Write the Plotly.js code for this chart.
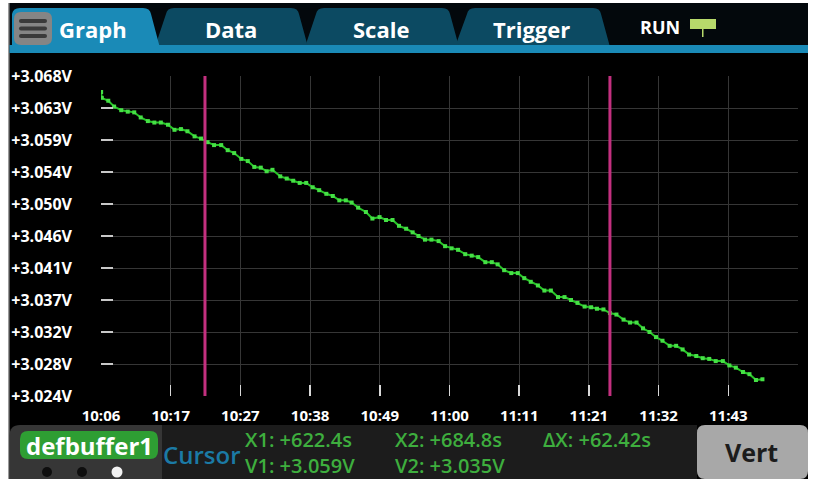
<!DOCTYPE html>
<html>
<head>
<meta charset="utf-8">
<script src="https://cdn.plot.ly/plotly-3.0.1.min.js"></script>
<style>html,body{margin:0;padding:0;background:#fff;}#chart{width:814px;height:479px;}</style>
</head>
<body>
<div id="chart"></div>
<script>
// ---- data ----
const timeSec = [606.4, 606.5, 607.5, 608.4, 609.5, 610.5, 611.5, 612.5, 613.6, 614.6, 615.6, 616.7, 617.7, 618.7, 619.7, 620.8, 621.8, 622.8, 623.8, 624.9, 625.9, 626.9, 628.0, 629.0, 630.0, 631.0,
  631.9, 632.8, 634.0, 635.0, 636.0, 637.0, 638.0, 639.0, 640.0, 641.1, 642.1, 643.1, 644.1, 645.0, 646.0, 647.2, 648.2, 649.3, 650.3, 651.3, 652.3, 653.4,
  654.4, 655.3, 656.3, 657.3, 658.4, 659.4, 660.4, 661.4, 662.5, 663.5, 664.5, 665.6, 666.6, 667.5, 668.5, 669.6, 670.6, 671.6, 672.6, 673.7, 674.7, 675.7, 676.8, 677.8, 678.8, 679.8, 680.9, 681.9,
  682.8, 683.8, 684.8, 685.8, 686.9, 687.9, 688.9, 689.9, 690.9, 691.9, 692.9, 694.0, 695.0, 696.0, 697.0, 698.1, 699.1, 700.1, 701.1, 702.2, 703.2, 704.2, 705.3, 706.3, 707.3, 708.3];
const volts = [3.0658, 3.0650, 3.0646, 3.0638, 3.0633, 3.0631, 3.0630, 3.0623, 3.0618, 3.0616, 3.0616, 3.0613, 3.0606, 3.0607, 3.0604, 3.0597, 3.0594, 3.0589, 3.0585, 3.0585, 3.0578, 3.0574, 3.0566, 3.0563, 3.0555, 3.0554,
  3.0549, 3.0551, 3.0542, 3.0539, 3.0536, 3.0533, 3.0533, 3.0527, 3.0523, 3.0518, 3.0515, 3.0509, 3.0509, 3.0506, 3.0499, 3.0493, 3.0484, 3.0486, 3.0482, 3.0482, 3.0474, 3.0470,
  3.0465, 3.0460, 3.0455, 3.0455, 3.0453, 3.0446, 3.0443, 3.0441, 3.0435, 3.0433, 3.0431, 3.0424, 3.0424, 3.0421, 3.0413, 3.0409, 3.0409, 3.0402, 3.0397, 3.0392, 3.0385, 3.0385, 3.0376, 3.0376, 3.0372, 3.0368, 3.0363, 3.0362,
  3.0360, 3.0359, 3.0354, 3.0352, 3.0345, 3.0341, 3.0341, 3.0333, 3.0328, 3.0321, 3.0316, 3.0309, 3.0309, 3.0304, 3.0297, 3.0295, 3.0292, 3.0291, 3.0288, 3.0288, 3.0282, 3.0279, 3.0273, 3.0270, 3.0262, 3.0263];

const xTickValues = [606.38, 617.12, 627.86, 638.60, 649.34, 660.08, 670.82, 681.56, 692.30, 703.04, 713.78];
const xTickLabels = ["10:06", "10:17", "10:27", "10:38", "10:49", "11:00", "11:11", "11:21", "11:32", "11:43", ""];
const yTickValues = [3.0240, 3.0284, 3.0328, 3.0372, 3.0416, 3.0460, 3.0504, 3.0548, 3.0592, 3.0636, 3.0680];
const yTickLabels = ["+3.024V", "+3.028V", "+3.032V", "+3.037V", "+3.041V", "+3.046V", "+3.050V", "+3.054V", "+3.059V", "+3.063V", "+3.068V"];

const cursorX = [622.4, 684.8];
const cursorV = [3.059, 3.035];
const deltaX = 62.42;
const tabNames = ["Graph", "Data", "Scale", "Trigger"];
const bufferName = "defbuffer1";

// ---- geometry helpers (pixel -> paper) ----
const L = 101, R = 798, T = 76, B = 396;
const W = R - L, H = B - T;
const px = x => (x - L) / W;
const py = y => (B - y) / H;
const P = (x, y) => px(x).toFixed(5) + ',' + py(y).toFixed(5);

function rrect(x0, y0, x1, y1, r) {
  return 'M' + P(x0 + r, y0) + ' L' + P(x1 - r, y0) + ' Q' + P(x1, y0) + ' ' + P(x1, y0 + r) +
    ' L' + P(x1, y1 - r) + ' Q' + P(x1, y1) + ' ' + P(x1 - r, y1) +
    ' L' + P(x0 + r, y1) + ' Q' + P(x0, y1) + ' ' + P(x0, y1 - r) +
    ' L' + P(x0, y0 + r) + ' Q' + P(x0, y0) + ' ' + P(x0 + r, y0) + ' Z';
}
function tab(xbl, xtl, xtr, xbr, yt, yb) {
  return 'M' + P(xbl, yb) + ' L' + P(xtl, yt + 6) + ' Q' + P(xtl + 1, yt) + ' ' + P(xtl + 8, yt) +
    ' L' + P(xtr - 7, yt) + ' Q' + P(xtr, yt) + ' ' + P(xtr + 1, yt + 6) + ' L' + P(xbr, yb) + ' Z';
}
const shp = (path, color, layer) => ({type: 'path', xref: 'paper', yref: 'paper', path: path, fillcolor: color, line: {width: 0}, layer: layer || 'below'});
const rect = (x0, y0, x1, y1, color) => ({type: 'rect', xref: 'paper', yref: 'paper', x0: px(x0), x1: px(x1), y0: py(y1), y1: py(y0), fillcolor: color, line: {width: 0}, layer: 'below'});
const circ = (cx, cy, r, color) => ({type: 'circle', xref: 'paper', yref: 'paper', x0: px(cx - r), x1: px(cx + r), y0: py(cy + r), y1: py(cy - r), fillcolor: color, line: {width: 0}, layer: 'above'});

const FONT = '"Open Sans", "DejaVu Sans", sans-serif';
const ann = (text, x, y, opts) => Object.assign({
  text: text, xref: 'paper', yref: 'paper', x: px(x), y: py(y), showarrow: false,
  xanchor: 'center', yanchor: 'middle', borderpad: 0, font: {family: FONT, size: 22, color: '#ffffff', weight: 700}
}, opts || {});

const shapes = [
  rect(9, 3, 808, 479, '#000000'),
  rect(9, 3, 808, 47, '#03080c'),
  rect(8, 3, 9.5, 479, '#9a9a9a'),
  // inactive tabs
  shp(tab(455, 467, 600, 610, 8, 47), '#0c4a62'),
  shp(tab(305, 316, 449, 459, 8, 47), '#0c4a62'),
  shp(tab(155, 166, 298, 308, 8, 47), '#0c4a62'),
  // active tab
  shp(tab(12, 12, 150, 160, 8, 48), '#1a8ab7'),
  rect(9.5, 45, 808, 53, '#1a8ab7'),
  // hamburger
  shp(rrect(14, 12, 52, 45, 7), '#858585'),
  shp(rrect(19, 19, 47, 23, 2), '#3a3a3a'),
  shp(rrect(19, 26.5, 47, 30.5, 2), '#3a3a3a'),
  shp(rrect(19, 34, 47, 38, 2), '#3a3a3a'),
  // RUN indicator
  rect(690, 19, 716, 29, '#b7d96b'),
  rect(702, 29, 703.5, 37, '#b7d96b'),
  // bottom panel
  rect(160, 425, 697, 479, '#1c1c1c'),
  shp('M' + P(9.5, 479) + ' L' + P(9.5, 436) + ' Q' + P(9.5, 425) + ' ' + P(20, 425) + ' L' + P(162, 425) + ' L' + P(162, 479) + ' Z', '#363636'),
  shp(rrect(20, 431, 158, 459, 8), '#2e9e33'),
  shp(rrect(697, 425, 808, 479, 8), '#a8a8a8'),
  circ(47, 472, 5, '#0e0e0e'),
  circ(82, 472, 5, '#0e0e0e'),
  circ(117, 472, 5.5, '#f2f2f2')
];
// cursor lines
cursorX.forEach(cx => shapes.push({type: 'line', xref: 'x', yref: 'paper', x0: cx, x1: cx, y0: 0, y1: 1, line: {color: '#c3307f', width: 3}, layer: 'above'}));

const green = '#3eae3e';
const gfont = {family: FONT, size: 20, color: green, weight: 600};
const annotations = [
  ann(tabNames[0], 93, 29),
  ann(tabNames[1], 231, 29),
  ann(tabNames[2], 381, 29),
  ann(tabNames[3], 531, 29),
  ann('RUN', 660, 27, {font: {family: FONT, size: 18, color: '#ffffff', weight: 700}}),
  ann(bufferName, 89, 445, {font: {family: FONT, size: 24, color: '#ffffff', weight: 700}}),
  ann('Cursor', 162, 454, {xanchor: 'left', font: {family: FONT, size: 24, color: '#1b7aa5', weight: 600}}),
  ann('X1: +' + cursorX[0].toFixed(1) + 's<br>V1: +' + cursorV[0].toFixed(3) + 'V', 244, 452, {xanchor: 'left', align: 'left', font: gfont}),
  ann('X2: +' + cursorX[1].toFixed(1) + 's<br>V2: +' + cursorV[1].toFixed(3) + 'V', 394, 452, {xanchor: 'left', align: 'left', font: gfont}),
  ann('ΔX: +' + deltaX.toFixed(2) + 's', 542, 439, {xanchor: 'left', font: gfont}),
  ann('Vert', 751, 452, {font: {family: FONT, size: 25, color: '#1c1c1c', weight: 700}})
];

const trace = {
  x: timeSec, y: volts, type: 'scatter', mode: 'lines+markers',
  line: {color: '#27c427', width: 2},
  marker: {color: '#45e045', size: 4, symbol: 'square'},
  hoverinfo: 'skip', cliponaxis: true
};

const layout = {
  width: 814, height: 479,
  margin: {l: L, r: 814 - R, t: T, b: 479 - B, pad: 0},
  paper_bgcolor: '#ffffff', plot_bgcolor: '#000000',
  showlegend: false,
  xaxis: {
    range: [xTickValues[0], xTickValues[xTickValues.length - 1]],
    tickmode: 'array', tickvals: xTickValues, ticktext: xTickLabels,
    ticks: 'inside', ticklen: 11, tickwidth: 1.5, tickcolor: '#d8d8d8',
    showgrid: true, gridcolor: '#363636', gridwidth: 1,
    zeroline: false, showline: false, ticklabelstandoff: 9,
    tickfont: {family: FONT, size: 15, color: '#ffffff', weight: 700}
  },
  yaxis: {
    range: [yTickValues[0], yTickValues[yTickValues.length - 1]],
    tickmode: 'array', tickvals: yTickValues, ticktext: yTickLabels,
    ticks: 'inside', ticklen: 12, tickwidth: 1.5, tickcolor: '#c8c8c8',
    showgrid: true, gridcolor: '#363636', gridwidth: 1,
    zeroline: false, showline: false, ticklabelstandoff: 28,
    tickfont: {family: FONT, size: 16, color: '#ffffff', weight: 700}
  },
  shapes: shapes,
  annotations: annotations
};

Plotly.newPlot('chart', [trace], layout, {staticPlot: true, displayModeBar: false});
</script>
</body>
</html>
